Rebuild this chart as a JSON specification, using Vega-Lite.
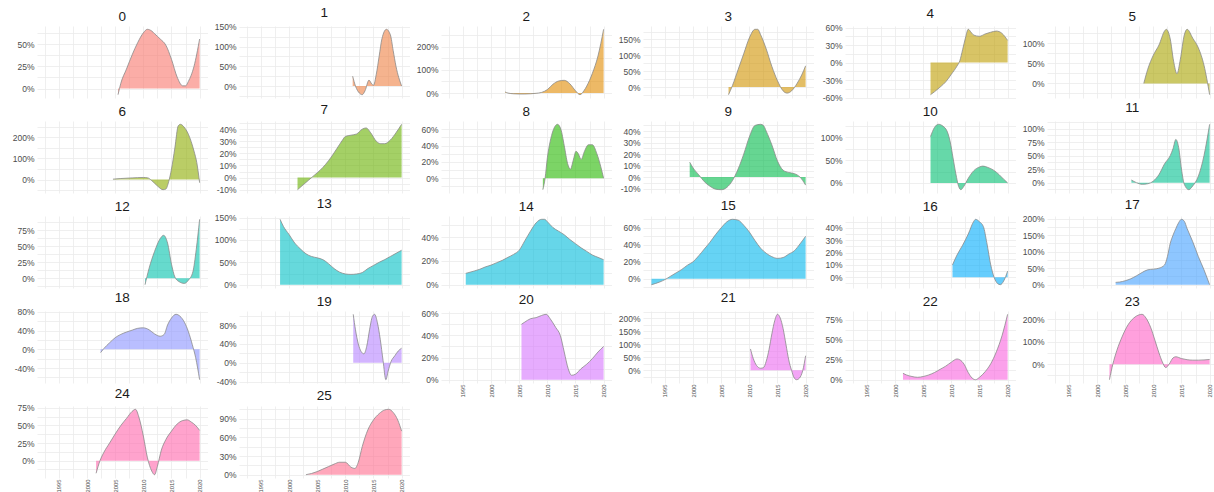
{
  "$schema": "https://vega.github.io/schema/vega-lite/v6.json",
  "padding": {"left": 12, "top": 6, "right": 0, "bottom": 0},
  "background": "white",
  "data": {"values": [
    {"p":0,"year":2005.5,"v":-0.07},{"p":0,"year":2006,"v":0.06},{"p":0,"year":2007,"v":0.22},{"p":0,"year":2008,"v":0.38},{"p":0,"year":2009,"v":0.52},{"p":0,"year":2010,"v":0.63},{"p":0,"year":2010.7,"v":0.67},{"p":0,"year":2011.5,"v":0.65},{"p":0,"year":2012,"v":0.62},{"p":0,"year":2013,"v":0.56},{"p":0,"year":2014,"v":0.49},{"p":0,"year":2015,"v":0.33},{"p":0,"year":2016,"v":0.13},{"p":0,"year":2017,"v":0.03},{"p":0,"year":2017.5,"v":0.03},{"p":0,"year":2018,"v":0.08},{"p":0,"year":2019,"v":0.25},{"p":0,"year":2020,"v":0.56},
    {"p":1,"year":2011.3,"v":0.25},{"p":1,"year":2011.8,"v":0.0},{"p":1,"year":2012.5,"v":-0.18},{"p":1,"year":2013,"v":-0.22},{"p":1,"year":2013.5,"v":-0.12},{"p":1,"year":2014.2,"v":0.15},{"p":1,"year":2014.7,"v":0.05},{"p":1,"year":2015,"v":0.02},{"p":1,"year":2015.5,"v":0.3},{"p":1,"year":2016,"v":0.75},{"p":1,"year":2016.5,"v":1.2},{"p":1,"year":2017.3,"v":1.44},{"p":1,"year":2018,"v":1.3},{"p":1,"year":2018.5,"v":0.9},{"p":1,"year":2019,"v":0.5},{"p":1,"year":2020,"v":0.0},
    {"p":2,"year":2002.5,"v":0.05},{"p":2,"year":2003,"v":0.0},{"p":2,"year":2004,"v":-0.03},{"p":2,"year":2005,"v":-0.04},{"p":2,"year":2006,"v":-0.04},{"p":2,"year":2007,"v":-0.03},{"p":2,"year":2008,"v":-0.01},{"p":2,"year":2009,"v":0.03},{"p":2,"year":2010,"v":0.15},{"p":2,"year":2011,"v":0.38},{"p":2,"year":2012,"v":0.52},{"p":2,"year":2013,"v":0.55},{"p":2,"year":2014,"v":0.4},{"p":2,"year":2015,"v":0.1},{"p":2,"year":2015.8,"v":-0.07},{"p":2,"year":2016.5,"v":0.1},{"p":2,"year":2017,"v":0.3},{"p":2,"year":2018,"v":0.85},{"p":2,"year":2019,"v":1.6},{"p":2,"year":2020,"v":2.75},
    {"p":3,"year":2006.3,"v":-0.24},{"p":3,"year":2007,"v":0.05},{"p":3,"year":2008,"v":0.55},{"p":3,"year":2009,"v":1.05},{"p":3,"year":2010,"v":1.55},{"p":3,"year":2011,"v":1.82},{"p":3,"year":2011.5,"v":1.82},{"p":3,"year":2012,"v":1.65},{"p":3,"year":2013,"v":1.2},{"p":3,"year":2014,"v":0.65},{"p":3,"year":2015,"v":0.2},{"p":3,"year":2016,"v":-0.12},{"p":3,"year":2016.7,"v":-0.19},{"p":3,"year":2017.5,"v":-0.12},{"p":3,"year":2018.5,"v":0.12},{"p":3,"year":2019.3,"v":0.38},{"p":3,"year":2020,"v":0.67},
    {"p":4,"year":2006.3,"v":-0.55},{"p":4,"year":2007,"v":-0.5},{"p":4,"year":2008,"v":-0.42},{"p":4,"year":2009,"v":-0.33},{"p":4,"year":2010,"v":-0.2},{"p":4,"year":2011,"v":-0.06},{"p":4,"year":2011.5,"v":0.03},{"p":4,"year":2012,"v":0.22},{"p":4,"year":2012.5,"v":0.42},{"p":4,"year":2013,"v":0.57},{"p":4,"year":2013.5,"v":0.52},{"p":4,"year":2014,"v":0.47},{"p":4,"year":2015,"v":0.45},{"p":4,"year":2016,"v":0.49},{"p":4,"year":2017,"v":0.52},{"p":4,"year":2018,"v":0.54},{"p":4,"year":2019,"v":0.5},{"p":4,"year":2020,"v":0.38},
    {"p":5,"year":2008.3,"v":0.0},{"p":5,"year":2009,"v":0.35},{"p":5,"year":2010,"v":0.7},{"p":5,"year":2011,"v":0.95},{"p":5,"year":2012,"v":1.3},{"p":5,"year":2012.3,"v":1.34},{"p":5,"year":2013,"v":1.1},{"p":5,"year":2013.6,"v":0.55},{"p":5,"year":2014.2,"v":0.24},{"p":5,"year":2014.8,"v":0.6},{"p":5,"year":2015.5,"v":1.2},{"p":5,"year":2016,"v":1.34},{"p":5,"year":2017,"v":1.12},{"p":5,"year":2018,"v":0.88},{"p":5,"year":2019,"v":0.45},{"p":5,"year":2020,"v":-0.28},
    {"p":6,"year":2004.6,"v":0.02},{"p":6,"year":2006,"v":0.05},{"p":6,"year":2008,"v":0.08},{"p":6,"year":2010,"v":0.1},{"p":6,"year":2010.8,"v":0.08},{"p":6,"year":2011.5,"v":-0.05},{"p":6,"year":2012.5,"v":-0.3},{"p":6,"year":2013.5,"v":-0.48},{"p":6,"year":2014,"v":-0.45},{"p":6,"year":2014.5,"v":-0.1},{"p":6,"year":2015,"v":0.5},{"p":6,"year":2015.6,"v":1.5},{"p":6,"year":2016.2,"v":2.55},{"p":6,"year":2016.6,"v":2.62},{"p":6,"year":2017.2,"v":2.5},{"p":6,"year":2018,"v":2.15},{"p":6,"year":2019,"v":1.35},{"p":6,"year":2019.5,"v":0.8},{"p":6,"year":2020,"v":-0.15},
    {"p":7,"year":2001.5,"v":-0.1},{"p":7,"year":2002.5,"v":-0.06},{"p":7,"year":2003.5,"v":-0.02},{"p":7,"year":2004.5,"v":0.02},{"p":7,"year":2005.5,"v":0.06},{"p":7,"year":2006.5,"v":0.11},{"p":7,"year":2007.5,"v":0.17},{"p":7,"year":2008.5,"v":0.24},{"p":7,"year":2009.5,"v":0.31},{"p":7,"year":2010,"v":0.34},{"p":7,"year":2011,"v":0.35},{"p":7,"year":2012,"v":0.36},{"p":7,"year":2013,"v":0.4},{"p":7,"year":2013.7,"v":0.41},{"p":7,"year":2014.5,"v":0.37},{"p":7,"year":2015.5,"v":0.3},{"p":7,"year":2016.3,"v":0.28},{"p":7,"year":2017,"v":0.28},{"p":7,"year":2018,"v":0.31},{"p":7,"year":2019,"v":0.37},{"p":7,"year":2020,"v":0.44},
    {"p":8,"year":2009.2,"v":-0.14},{"p":8,"year":2009.6,"v":0.0},{"p":8,"year":2010,"v":0.25},{"p":8,"year":2010.5,"v":0.45},{"p":8,"year":2011,"v":0.58},{"p":8,"year":2011.8,"v":0.66},{"p":8,"year":2012.4,"v":0.6},{"p":8,"year":2013,"v":0.4},{"p":8,"year":2013.6,"v":0.18},{"p":8,"year":2014.1,"v":0.11},{"p":8,"year":2014.6,"v":0.22},{"p":8,"year":2015.1,"v":0.33},{"p":8,"year":2015.5,"v":0.3},{"p":8,"year":2016,"v":0.23},{"p":8,"year":2016.6,"v":0.33},{"p":8,"year":2017.3,"v":0.41},{"p":8,"year":2018,"v":0.41},{"p":8,"year":2018.8,"v":0.3},{"p":8,"year":2019.5,"v":0.14},{"p":8,"year":2020,"v":0.0},
    {"p":9,"year":1999.4,"v":0.13},{"p":9,"year":2000,"v":0.08},{"p":9,"year":2001,"v":0.02},{"p":9,"year":2002,"v":-0.04},{"p":9,"year":2003,"v":-0.08},{"p":9,"year":2004,"v":-0.105},{"p":9,"year":2005,"v":-0.11},{"p":9,"year":2006,"v":-0.09},{"p":9,"year":2007,"v":-0.03},{"p":9,"year":2008,"v":0.07},{"p":9,"year":2009,"v":0.2},{"p":9,"year":2010,"v":0.35},{"p":9,"year":2011,"v":0.45},{"p":9,"year":2012,"v":0.46},{"p":9,"year":2012.5,"v":0.45},{"p":9,"year":2013,"v":0.4},{"p":9,"year":2014,"v":0.28},{"p":9,"year":2015,"v":0.14},{"p":9,"year":2016,"v":0.06},{"p":9,"year":2017,"v":0.04},{"p":9,"year":2018,"v":0.03},{"p":9,"year":2019,"v":0.0},{"p":9,"year":2020,"v":-0.07},
    {"p":10,"year":2006.3,"v":1.02},{"p":10,"year":2007,"v":1.22},{"p":10,"year":2007.7,"v":1.29},{"p":10,"year":2008.5,"v":1.25},{"p":10,"year":2009.3,"v":1.12},{"p":10,"year":2009.8,"v":0.9},{"p":10,"year":2010.3,"v":0.55},{"p":10,"year":2010.8,"v":0.2},{"p":10,"year":2011.3,"v":-0.08},{"p":10,"year":2011.7,"v":-0.15},{"p":10,"year":2012.2,"v":-0.08},{"p":10,"year":2013,"v":0.1},{"p":10,"year":2014,"v":0.27},{"p":10,"year":2015,"v":0.35},{"p":10,"year":2015.6,"v":0.37},{"p":10,"year":2016.5,"v":0.34},{"p":10,"year":2017.5,"v":0.28},{"p":10,"year":2018.5,"v":0.18},{"p":10,"year":2019.3,"v":0.08},{"p":10,"year":2020,"v":0.0},
    {"p":11,"year":2006.1,"v":0.05},{"p":11,"year":2007,"v":0.0},{"p":11,"year":2008,"v":-0.03},{"p":11,"year":2009,"v":-0.02},{"p":11,"year":2010,"v":0.03},{"p":11,"year":2011,"v":0.15},{"p":11,"year":2012,"v":0.35},{"p":11,"year":2013,"v":0.5},{"p":11,"year":2013.5,"v":0.63},{"p":11,"year":2014,"v":0.8},{"p":11,"year":2014.5,"v":0.65},{"p":11,"year":2015,"v":0.25},{"p":11,"year":2015.5,"v":-0.03},{"p":11,"year":2016.3,"v":-0.13},{"p":11,"year":2017,"v":-0.06},{"p":11,"year":2018,"v":0.12},{"p":11,"year":2019,"v":0.5},{"p":11,"year":2020,"v":1.08},
    {"p":12,"year":2010.3,"v":-0.1},{"p":12,"year":2011,"v":0.15},{"p":12,"year":2012,"v":0.42},{"p":12,"year":2013,"v":0.62},{"p":12,"year":2013.6,"v":0.67},{"p":12,"year":2014.3,"v":0.55},{"p":12,"year":2015,"v":0.22},{"p":12,"year":2015.6,"v":0.02},{"p":12,"year":2016.3,"v":-0.05},{"p":12,"year":2017.3,"v":-0.08},{"p":12,"year":2018,"v":-0.03},{"p":12,"year":2018.8,"v":0.1},{"p":12,"year":2019.4,"v":0.45},{"p":12,"year":2020,"v":0.92},
    {"p":13,"year":1998.4,"v":1.46},{"p":13,"year":1999,"v":1.3},{"p":13,"year":2000,"v":1.12},{"p":13,"year":2001,"v":0.93},{"p":13,"year":2002,"v":0.8},{"p":13,"year":2003,"v":0.69},{"p":13,"year":2004,"v":0.63},{"p":13,"year":2005,"v":0.6},{"p":13,"year":2006,"v":0.56},{"p":13,"year":2007,"v":0.47},{"p":13,"year":2008,"v":0.36},{"p":13,"year":2009,"v":0.28},{"p":13,"year":2010,"v":0.24},{"p":13,"year":2011,"v":0.23},{"p":13,"year":2012,"v":0.24},{"p":13,"year":2013,"v":0.27},{"p":13,"year":2014,"v":0.36},{"p":13,"year":2015,"v":0.43},{"p":13,"year":2016,"v":0.5},{"p":13,"year":2017,"v":0.56},{"p":13,"year":2018,"v":0.63},{"p":13,"year":2019,"v":0.7},{"p":13,"year":2020,"v":0.77},
    {"p":14,"year":1995.5,"v":0.095},{"p":14,"year":1997,"v":0.115},{"p":14,"year":1998,"v":0.13},{"p":14,"year":1999,"v":0.15},{"p":14,"year":2000,"v":0.165},{"p":14,"year":2001,"v":0.185},{"p":14,"year":2002,"v":0.205},{"p":14,"year":2003,"v":0.23},{"p":14,"year":2004,"v":0.255},{"p":14,"year":2005,"v":0.29},{"p":14,"year":2006,"v":0.37},{"p":14,"year":2007,"v":0.45},{"p":14,"year":2008,"v":0.52},{"p":14,"year":2009,"v":0.55},{"p":14,"year":2009.5,"v":0.55},{"p":14,"year":2010,"v":0.53},{"p":14,"year":2011,"v":0.48},{"p":14,"year":2012,"v":0.45},{"p":14,"year":2013,"v":0.42},{"p":14,"year":2014,"v":0.38},{"p":14,"year":2015,"v":0.345},{"p":14,"year":2016,"v":0.31},{"p":14,"year":2017,"v":0.28},{"p":14,"year":2018,"v":0.25},{"p":14,"year":2019,"v":0.23},{"p":14,"year":2020,"v":0.21},
    {"p":15,"year":1992.6,"v":-0.07},{"p":15,"year":1994,"v":-0.04},{"p":15,"year":1995,"v":-0.01},{"p":15,"year":1996,"v":0.03},{"p":15,"year":1997,"v":0.07},{"p":15,"year":1998,"v":0.11},{"p":15,"year":1999,"v":0.16},{"p":15,"year":2000,"v":0.2},{"p":15,"year":2001,"v":0.27},{"p":15,"year":2002,"v":0.35},{"p":15,"year":2003,"v":0.43},{"p":15,"year":2004,"v":0.52},{"p":15,"year":2005,"v":0.6},{"p":15,"year":2006,"v":0.67},{"p":15,"year":2007,"v":0.7},{"p":15,"year":2008,"v":0.69},{"p":15,"year":2009,"v":0.63},{"p":15,"year":2010,"v":0.55},{"p":15,"year":2011,"v":0.45},{"p":15,"year":2012,"v":0.36},{"p":15,"year":2013,"v":0.3},{"p":15,"year":2014,"v":0.26},{"p":15,"year":2015,"v":0.24},{"p":15,"year":2016,"v":0.25},{"p":15,"year":2017,"v":0.29},{"p":15,"year":2018,"v":0.33},{"p":15,"year":2019,"v":0.41},{"p":15,"year":2020,"v":0.5},
    {"p":16,"year":2010.2,"v":0.1},{"p":16,"year":2011,"v":0.18},{"p":16,"year":2012,"v":0.26},{"p":16,"year":2013,"v":0.35},{"p":16,"year":2014,"v":0.455},{"p":16,"year":2014.3,"v":0.47},{"p":16,"year":2015,"v":0.45},{"p":16,"year":2015.7,"v":0.41},{"p":16,"year":2016.3,"v":0.28},{"p":16,"year":2017,"v":0.1},{"p":16,"year":2017.6,"v":0.0},{"p":16,"year":2018.2,"v":-0.05},{"p":16,"year":2018.7,"v":-0.06},{"p":16,"year":2019.3,"v":-0.03},{"p":16,"year":2020,"v":0.05},
    {"p":17,"year":2003.3,"v":0.07},{"p":17,"year":2004,"v":0.08},{"p":17,"year":2005,"v":0.12},{"p":17,"year":2006,"v":0.18},{"p":17,"year":2007,"v":0.27},{"p":17,"year":2008,"v":0.37},{"p":17,"year":2009,"v":0.45},{"p":17,"year":2010,"v":0.47},{"p":17,"year":2011,"v":0.5},{"p":17,"year":2012,"v":0.6},{"p":17,"year":2012.5,"v":0.85},{"p":17,"year":2013,"v":1.25},{"p":17,"year":2013.5,"v":1.5},{"p":17,"year":2014,"v":1.7},{"p":17,"year":2014.5,"v":1.88},{"p":17,"year":2015,"v":1.98},{"p":17,"year":2015.5,"v":1.92},{"p":17,"year":2016,"v":1.7},{"p":17,"year":2017,"v":1.3},{"p":17,"year":2018,"v":0.85},{"p":17,"year":2019,"v":0.45},{"p":17,"year":2020,"v":0.0},
    {"p":18,"year":2002.4,"v":-0.07},{"p":18,"year":2003,"v":0.02},{"p":18,"year":2004,"v":0.14},{"p":18,"year":2005,"v":0.25},{"p":18,"year":2006,"v":0.32},{"p":18,"year":2007,"v":0.37},{"p":18,"year":2008,"v":0.41},{"p":18,"year":2009,"v":0.45},{"p":18,"year":2010,"v":0.46},{"p":18,"year":2011,"v":0.42},{"p":18,"year":2012,"v":0.33},{"p":18,"year":2013,"v":0.28},{"p":18,"year":2013.7,"v":0.32},{"p":18,"year":2014.3,"v":0.52},{"p":18,"year":2015,"v":0.67},{"p":18,"year":2015.8,"v":0.75},{"p":18,"year":2016.5,"v":0.71},{"p":18,"year":2017.3,"v":0.58},{"p":18,"year":2018,"v":0.38},{"p":18,"year":2018.7,"v":0.1},{"p":18,"year":2019.3,"v":-0.18},{"p":18,"year":2020,"v":-0.65},
    {"p":19,"year":2011.4,"v":1.03},{"p":19,"year":2011.8,"v":0.7},{"p":19,"year":2012.3,"v":0.4},{"p":19,"year":2012.8,"v":0.24},{"p":19,"year":2013.3,"v":0.19},{"p":19,"year":2013.8,"v":0.35},{"p":19,"year":2014.3,"v":0.7},{"p":19,"year":2014.8,"v":0.98},{"p":19,"year":2015.2,"v":1.03},{"p":19,"year":2015.7,"v":0.85},{"p":19,"year":2016.2,"v":0.5},{"p":19,"year":2016.7,"v":0.05},{"p":19,"year":2017.2,"v":-0.36},{"p":19,"year":2017.6,"v":-0.18},{"p":19,"year":2018.1,"v":0.02},{"p":19,"year":2018.8,"v":0.15},{"p":19,"year":2019.4,"v":0.25},{"p":19,"year":2020,"v":0.31},
    {"p":20,"year":2005.4,"v":0.5},{"p":20,"year":2006,"v":0.52},{"p":20,"year":2007,"v":0.55},{"p":20,"year":2008,"v":0.56},{"p":20,"year":2009,"v":0.58},{"p":20,"year":2009.8,"v":0.59},{"p":20,"year":2010.5,"v":0.55},{"p":20,"year":2011.5,"v":0.47},{"p":20,"year":2012.3,"v":0.4},{"p":20,"year":2013,"v":0.25},{"p":20,"year":2013.7,"v":0.1},{"p":20,"year":2014.3,"v":0.04},{"p":20,"year":2015,"v":0.05},{"p":20,"year":2016,"v":0.1},{"p":20,"year":2017,"v":0.14},{"p":20,"year":2018,"v":0.19},{"p":20,"year":2019,"v":0.25},{"p":20,"year":2020,"v":0.3},
    {"p":21,"year":2010.2,"v":0.82},{"p":21,"year":2010.7,"v":0.45},{"p":21,"year":2011.3,"v":0.18},{"p":21,"year":2012,"v":0.08},{"p":21,"year":2012.5,"v":0.1},{"p":21,"year":2013,"v":0.35},{"p":21,"year":2013.5,"v":0.8},{"p":21,"year":2014,"v":1.4},{"p":21,"year":2014.5,"v":1.9},{"p":21,"year":2015,"v":2.15},{"p":21,"year":2015.5,"v":2.0},{"p":21,"year":2016,"v":1.6},{"p":21,"year":2016.5,"v":1.0},{"p":21,"year":2017,"v":0.4},{"p":21,"year":2017.5,"v":0.0},{"p":21,"year":2018,"v":-0.3},{"p":21,"year":2018.4,"v":-0.36},{"p":21,"year":2018.9,"v":-0.3},{"p":21,"year":2019.5,"v":0.0},{"p":21,"year":2020,"v":0.56},
    {"p":22,"year":2001.4,"v":0.08},{"p":22,"year":2002,"v":0.06},{"p":22,"year":2003,"v":0.04},{"p":22,"year":2004,"v":0.03},{"p":22,"year":2005,"v":0.04},{"p":22,"year":2006,"v":0.06},{"p":22,"year":2007,"v":0.09},{"p":22,"year":2008,"v":0.13},{"p":22,"year":2009,"v":0.17},{"p":22,"year":2010,"v":0.22},{"p":22,"year":2011,"v":0.26},{"p":22,"year":2011.5,"v":0.25},{"p":22,"year":2012.3,"v":0.19},{"p":22,"year":2013,"v":0.09},{"p":22,"year":2013.7,"v":0.02},{"p":22,"year":2014.3,"v":0.0},{"p":22,"year":2015,"v":0.03},{"p":22,"year":2016,"v":0.1},{"p":22,"year":2017,"v":0.2},{"p":22,"year":2018,"v":0.35},{"p":22,"year":2019,"v":0.55},{"p":22,"year":2020,"v":0.82},
    {"p":23,"year":2002.2,"v":-0.69},{"p":23,"year":2002.8,"v":0.0},{"p":23,"year":2003.5,"v":0.6},{"p":23,"year":2004.5,"v":1.25},{"p":23,"year":2005.5,"v":1.75},{"p":23,"year":2006.5,"v":2.05},{"p":23,"year":2007.5,"v":2.2},{"p":23,"year":2008,"v":2.22},{"p":23,"year":2008.7,"v":2.05},{"p":23,"year":2009.5,"v":1.65},{"p":23,"year":2010.3,"v":1.05},{"p":23,"year":2011,"v":0.5},{"p":23,"year":2011.6,"v":0.1},{"p":23,"year":2012.2,"v":-0.15},{"p":23,"year":2012.8,"v":0.0},{"p":23,"year":2013.5,"v":0.28},{"p":23,"year":2014,"v":0.33},{"p":23,"year":2015,"v":0.25},{"p":23,"year":2016,"v":0.2},{"p":23,"year":2017,"v":0.18},{"p":23,"year":2018,"v":0.18},{"p":23,"year":2019,"v":0.19},{"p":23,"year":2020,"v":0.21},
    {"p":24,"year":2001.6,"v":-0.18},{"p":24,"year":2002.3,"v":0.0},{"p":24,"year":2003,"v":0.12},{"p":24,"year":2004,"v":0.25},{"p":24,"year":2005,"v":0.38},{"p":24,"year":2006,"v":0.5},{"p":24,"year":2007,"v":0.6},{"p":24,"year":2008,"v":0.7},{"p":24,"year":2008.6,"v":0.73},{"p":24,"year":2009.2,"v":0.62},{"p":24,"year":2010,"v":0.35},{"p":24,"year":2010.7,"v":0.05},{"p":24,"year":2011.5,"v":-0.15},{"p":24,"year":2012,"v":-0.2},{"p":24,"year":2012.5,"v":-0.08},{"p":24,"year":2013.2,"v":0.15},{"p":24,"year":2014,"v":0.3},{"p":24,"year":2015,"v":0.42},{"p":24,"year":2016,"v":0.52},{"p":24,"year":2017,"v":0.57},{"p":24,"year":2017.8,"v":0.58},{"p":24,"year":2018.5,"v":0.55},{"p":24,"year":2019.3,"v":0.5},{"p":24,"year":2020,"v":0.43},
    {"p":25,"year":2003,"v":0.0},{"p":25,"year":2004,"v":0.02},{"p":25,"year":2005,"v":0.05},{"p":25,"year":2006,"v":0.09},{"p":25,"year":2007,"v":0.13},{"p":25,"year":2008,"v":0.17},{"p":25,"year":2009,"v":0.2},{"p":25,"year":2010,"v":0.2},{"p":25,"year":2011,"v":0.12},{"p":25,"year":2011.7,"v":0.1},{"p":25,"year":2012.3,"v":0.2},{"p":25,"year":2013,"v":0.45},{"p":25,"year":2014,"v":0.72},{"p":25,"year":2015,"v":0.88},{"p":25,"year":2016,"v":0.98},{"p":25,"year":2017,"v":1.04},{"p":25,"year":2017.7,"v":1.05},{"p":25,"year":2018.5,"v":1.0},{"p":25,"year":2019.3,"v":0.88},{"p":25,"year":2020,"v":0.7}
  ]},
  "columns": 6,
  "spacing": {"row": 23, "column": 31},
  "bounds": "flush",
  "concat": [
    {"title": "0", "width": 170.5, "height": 72, "transform": [{"filter": "datum.p == 0"}],
     "encoding": {"x": {"field": "year", "type": "quantitative", "title": null, "scale": {"domain": [1991.1, 2021.4], "nice": false, "zero": false}, "axis": {"values": [1992.5,1995,1997.5,2000,2002.5,2005,2007.5,2010,2012.5,2015,2017.5,2020], "labels": false}},
                  "y": {"field": "v", "type": "quantitative", "title": null, "scale": {"nice": false, "zero": true, "padding": 3.3}, "axis": {"values": [0,0.125,0.25,0.375,0.5,0.625], "labelExpr": "abs(datum.value/0.25-round(datum.value/0.25))<1e-6?(datum.value<0?'-':'')+format(abs(datum.value),'.0%'):''"}}},
     "layer": [{"mark": {"type": "area", "interpolate": "monotone", "color": "#F8766D", "opacity": 0.6}, "encoding": {"y2": {"datum": 0}}}, {"mark": {"type": "line", "interpolate": "monotone", "color": "#8a8a8a", "strokeWidth": 0.8}}]},
    {"title": "1", "width": 170.5, "height": 72, "transform": [{"filter": "datum.p == 1"}],
     "encoding": {"x": {"field": "year", "type": "quantitative", "title": null, "scale": {"domain": [1991.1, 2021.4], "nice": false, "zero": false}, "axis": {"values": [1992.5,1995,1997.5,2000,2002.5,2005,2007.5,2010,2012.5,2015,2017.5,2020], "labels": false}},
                  "y": {"field": "v", "type": "quantitative", "title": null, "scale": {"nice": false, "zero": true, "padding": 3.3}, "axis": {"values": [-0.25,0,0.25,0.5,0.75,1,1.25,1.5], "labelExpr": "abs(datum.value/0.5-round(datum.value/0.5))<1e-6?(datum.value<0?'-':'')+format(abs(datum.value),'.0%'):''"}}},
     "layer": [{"mark": {"type": "area", "interpolate": "monotone", "color": "#EE8043", "opacity": 0.6}, "encoding": {"y2": {"datum": 0}}}, {"mark": {"type": "line", "interpolate": "monotone", "color": "#8a8a8a", "strokeWidth": 0.8}}]},
    {"title": "2", "width": 170.5, "height": 72, "transform": [{"filter": "datum.p == 2"}],
     "encoding": {"x": {"field": "year", "type": "quantitative", "title": null, "scale": {"domain": [1991.1, 2021.4], "nice": false, "zero": false}, "axis": {"values": [1992.5,1995,1997.5,2000,2002.5,2005,2007.5,2010,2012.5,2015,2017.5,2020], "labels": false}},
                  "y": {"field": "v", "type": "quantitative", "title": null, "scale": {"nice": false, "zero": true, "padding": 3.3}, "axis": {"values": [0,0.5,1,1.5,2,2.5], "labelExpr": "abs(datum.value/1-round(datum.value/1))<1e-6?(datum.value<0?'-':'')+format(abs(datum.value),'.0%'):''"}}},
     "layer": [{"mark": {"type": "area", "interpolate": "monotone", "color": "#E18A00", "opacity": 0.6}, "encoding": {"y2": {"datum": 0}}}, {"mark": {"type": "line", "interpolate": "monotone", "color": "#8a8a8a", "strokeWidth": 0.8}}]},
    {"title": "3", "width": 170.5, "height": 72, "transform": [{"filter": "datum.p == 3"}],
     "encoding": {"x": {"field": "year", "type": "quantitative", "title": null, "scale": {"domain": [1991.1, 2021.4], "nice": false, "zero": false}, "axis": {"values": [1992.5,1995,1997.5,2000,2002.5,2005,2007.5,2010,2012.5,2015,2017.5,2020], "labels": false}},
                  "y": {"field": "v", "type": "quantitative", "title": null, "scale": {"nice": false, "zero": true, "padding": 3.3}, "axis": {"values": [-0.25,0,0.25,0.5,0.75,1,1.25,1.5,1.75], "labelExpr": "abs(datum.value/0.5-round(datum.value/0.5))<1e-6?(datum.value<0?'-':'')+format(abs(datum.value),'.0%'):''"}}},
     "layer": [{"mark": {"type": "area", "interpolate": "monotone", "color": "#D19300", "opacity": 0.6}, "encoding": {"y2": {"datum": 0}}}, {"mark": {"type": "line", "interpolate": "monotone", "color": "#8a8a8a", "strokeWidth": 0.8}}]},
    {"title": "4", "width": 170.5, "height": 72, "transform": [{"filter": "datum.p == 4"}],
     "encoding": {"x": {"field": "year", "type": "quantitative", "title": null, "scale": {"domain": [1991.1, 2021.4], "nice": false, "zero": false}, "axis": {"values": [1992.5,1995,1997.5,2000,2002.5,2005,2007.5,2010,2012.5,2015,2017.5,2020], "labels": false}},
                  "y": {"field": "v", "type": "quantitative", "title": null, "scale": {"nice": false, "zero": true, "padding": 3.3}, "axis": {"values": [-0.6,-0.45,-0.3,-0.15,0,0.15,0.3,0.45,0.6], "labelExpr": "abs(datum.value/0.3-round(datum.value/0.3))<1e-6?(datum.value<0?'-':'')+format(abs(datum.value),'.0%'):''"}}},
     "layer": [{"mark": {"type": "area", "interpolate": "monotone", "color": "#BE9C00", "opacity": 0.6}, "encoding": {"y2": {"datum": 0}}}, {"mark": {"type": "line", "interpolate": "monotone", "color": "#8a8a8a", "strokeWidth": 0.8}}]},
    {"title": "5", "width": 170.5, "height": 72, "transform": [{"filter": "datum.p == 5"}],
     "encoding": {"x": {"field": "year", "type": "quantitative", "title": null, "scale": {"domain": [1991.1, 2021.4], "nice": false, "zero": false}, "axis": {"values": [1992.5,1995,1997.5,2000,2002.5,2005,2007.5,2010,2012.5,2015,2017.5,2020], "labels": false}},
                  "y": {"field": "v", "type": "quantitative", "title": null, "scale": {"nice": false, "zero": true, "padding": 3.3}, "axis": {"values": [-0.25,0,0.25,0.5,0.75,1,1.25], "labelExpr": "abs(datum.value/0.5-round(datum.value/0.5))<1e-6?(datum.value<0?'-':'')+format(abs(datum.value),'.0%'):''"}}},
     "layer": [{"mark": {"type": "area", "interpolate": "monotone", "color": "#A8A400", "opacity": 0.6}, "encoding": {"y2": {"datum": 0}}}, {"mark": {"type": "line", "interpolate": "monotone", "color": "#8a8a8a", "strokeWidth": 0.8}}]},
    {"title": "6", "width": 170.5, "height": 72, "transform": [{"filter": "datum.p == 6"}],
     "encoding": {"x": {"field": "year", "type": "quantitative", "title": null, "scale": {"domain": [1991.1, 2021.4], "nice": false, "zero": false}, "axis": {"values": [1992.5,1995,1997.5,2000,2002.5,2005,2007.5,2010,2012.5,2015,2017.5,2020], "labels": false}},
                  "y": {"field": "v", "type": "quantitative", "title": null, "scale": {"nice": false, "zero": true, "padding": 3.3}, "axis": {"values": [-0.5,0,0.5,1,1.5,2,2.5], "labelExpr": "abs(datum.value/1-round(datum.value/1))<1e-6?(datum.value<0?'-':'')+format(abs(datum.value),'.0%'):''"}}},
     "layer": [{"mark": {"type": "area", "interpolate": "monotone", "color": "#8CAB00", "opacity": 0.6}, "encoding": {"y2": {"datum": 0}}}, {"mark": {"type": "line", "interpolate": "monotone", "color": "#8a8a8a", "strokeWidth": 0.8}}]},
    {"title": "7", "width": 170.5, "height": 72, "transform": [{"filter": "datum.p == 7"}],
     "encoding": {"x": {"field": "year", "type": "quantitative", "title": null, "scale": {"domain": [1991.1, 2021.4], "nice": false, "zero": false}, "axis": {"values": [1992.5,1995,1997.5,2000,2002.5,2005,2007.5,2010,2012.5,2015,2017.5,2020], "labels": false}},
                  "y": {"field": "v", "type": "quantitative", "title": null, "scale": {"nice": false, "zero": true, "padding": 3.3}, "axis": {"values": [-0.1,-0.05,0,0.05,0.1,0.15,0.2,0.25,0.3,0.35,0.4,0.45], "labelExpr": "abs(datum.value/0.1-round(datum.value/0.1))<1e-6?(datum.value<0?'-':'')+format(abs(datum.value),'.0%'):''"}}},
     "layer": [{"mark": {"type": "area", "interpolate": "monotone", "color": "#68B100", "opacity": 0.6}, "encoding": {"y2": {"datum": 0}}}, {"mark": {"type": "line", "interpolate": "monotone", "color": "#8a8a8a", "strokeWidth": 0.8}}]},
    {"title": "8", "width": 170.5, "height": 72, "transform": [{"filter": "datum.p == 8"}],
     "encoding": {"x": {"field": "year", "type": "quantitative", "title": null, "scale": {"domain": [1991.1, 2021.4], "nice": false, "zero": false}, "axis": {"values": [1992.5,1995,1997.5,2000,2002.5,2005,2007.5,2010,2012.5,2015,2017.5,2020], "labels": false}},
                  "y": {"field": "v", "type": "quantitative", "title": null, "scale": {"nice": false, "zero": true, "padding": 3.3}, "axis": {"values": [-0.1,0,0.1,0.2,0.3,0.4,0.5,0.6], "labelExpr": "abs(datum.value/0.2-round(datum.value/0.2))<1e-6?(datum.value<0?'-':'')+format(abs(datum.value),'.0%'):''"}}},
     "layer": [{"mark": {"type": "area", "interpolate": "monotone", "color": "#24B700", "opacity": 0.6}, "encoding": {"y2": {"datum": 0}}}, {"mark": {"type": "line", "interpolate": "monotone", "color": "#8a8a8a", "strokeWidth": 0.8}}]},
    {"title": "9", "width": 170.5, "height": 72, "transform": [{"filter": "datum.p == 9"}],
     "encoding": {"x": {"field": "year", "type": "quantitative", "title": null, "scale": {"domain": [1991.1, 2021.4], "nice": false, "zero": false}, "axis": {"values": [1992.5,1995,1997.5,2000,2002.5,2005,2007.5,2010,2012.5,2015,2017.5,2020], "labels": false}},
                  "y": {"field": "v", "type": "quantitative", "title": null, "scale": {"nice": false, "zero": true, "padding": 3.3}, "axis": {"values": [-0.1,-0.05,0,0.05,0.1,0.15,0.2,0.25,0.3,0.35,0.4,0.45], "labelExpr": "abs(datum.value/0.1-round(datum.value/0.1))<1e-6?(datum.value<0?'-':'')+format(abs(datum.value),'.0%'):''"}}},
     "layer": [{"mark": {"type": "area", "interpolate": "monotone", "color": "#00BB49", "opacity": 0.6}, "encoding": {"y2": {"datum": 0}}}, {"mark": {"type": "line", "interpolate": "monotone", "color": "#8a8a8a", "strokeWidth": 0.8}}]},
    {"title": "10", "width": 170.5, "height": 72, "transform": [{"filter": "datum.p == 10"}],
     "encoding": {"x": {"field": "year", "type": "quantitative", "title": null, "scale": {"domain": [1991.1, 2021.4], "nice": false, "zero": false}, "axis": {"values": [1992.5,1995,1997.5,2000,2002.5,2005,2007.5,2010,2012.5,2015,2017.5,2020], "labels": false}},
                  "y": {"field": "v", "type": "quantitative", "title": null, "scale": {"nice": false, "zero": true, "padding": 3.3}, "axis": {"values": [0,0.25,0.5,0.75,1,1.25], "labelExpr": "abs(datum.value/0.5-round(datum.value/0.5))<1e-6?(datum.value<0?'-':'')+format(abs(datum.value),'.0%'):''"}}},
     "layer": [{"mark": {"type": "area", "interpolate": "monotone", "color": "#00BE70", "opacity": 0.6}, "encoding": {"y2": {"datum": 0}}}, {"mark": {"type": "line", "interpolate": "monotone", "color": "#8a8a8a", "strokeWidth": 0.8}}]},
    {"title": "11", "width": 170.5, "height": 72, "transform": [{"filter": "datum.p == 11"}],
     "encoding": {"x": {"field": "year", "type": "quantitative", "title": null, "scale": {"domain": [1991.1, 2021.4], "nice": false, "zero": false}, "axis": {"values": [1992.5,1995,1997.5,2000,2002.5,2005,2007.5,2010,2012.5,2015,2017.5,2020], "labels": false}},
                  "y": {"field": "v", "type": "quantitative", "title": null, "scale": {"nice": false, "zero": true, "padding": 3.3}, "axis": {"values": [-0.125,0,0.125,0.25,0.375,0.5,0.625,0.75,0.875,1,1.125], "labelExpr": "abs(datum.value/0.25-round(datum.value/0.25))<1e-6?(datum.value<0?'-':'')+format(abs(datum.value),'.0%'):''"}}},
     "layer": [{"mark": {"type": "area", "interpolate": "monotone", "color": "#00C090", "opacity": 0.6}, "encoding": {"y2": {"datum": 0}}}, {"mark": {"type": "line", "interpolate": "monotone", "color": "#8a8a8a", "strokeWidth": 0.8}}]},
    {"title": "12", "width": 170.5, "height": 72, "transform": [{"filter": "datum.p == 12"}],
     "encoding": {"x": {"field": "year", "type": "quantitative", "title": null, "scale": {"domain": [1991.1, 2021.4], "nice": false, "zero": false}, "axis": {"values": [1992.5,1995,1997.5,2000,2002.5,2005,2007.5,2010,2012.5,2015,2017.5,2020], "labels": false}},
                  "y": {"field": "v", "type": "quantitative", "title": null, "scale": {"nice": false, "zero": true, "padding": 3.3}, "axis": {"values": [-0.125,0,0.125,0.25,0.375,0.5,0.625,0.75,0.875], "labelExpr": "abs(datum.value/0.25-round(datum.value/0.25))<1e-6?(datum.value<0?'-':'')+format(abs(datum.value),'.0%'):''"}}},
     "layer": [{"mark": {"type": "area", "interpolate": "monotone", "color": "#00C1AB", "opacity": 0.6}, "encoding": {"y2": {"datum": 0}}}, {"mark": {"type": "line", "interpolate": "monotone", "color": "#8a8a8a", "strokeWidth": 0.8}}]},
    {"title": "13", "width": 170.5, "height": 72, "transform": [{"filter": "datum.p == 13"}],
     "encoding": {"x": {"field": "year", "type": "quantitative", "title": null, "scale": {"domain": [1991.1, 2021.4], "nice": false, "zero": false}, "axis": {"values": [1992.5,1995,1997.5,2000,2002.5,2005,2007.5,2010,2012.5,2015,2017.5,2020], "labels": false}},
                  "y": {"field": "v", "type": "quantitative", "title": null, "scale": {"nice": false, "zero": true, "padding": 3.3}, "axis": {"values": [0,0.25,0.5,0.75,1,1.25,1.5], "labelExpr": "abs(datum.value/0.5-round(datum.value/0.5))<1e-6?(datum.value<0?'-':'')+format(abs(datum.value),'.0%'):''"}}},
     "layer": [{"mark": {"type": "area", "interpolate": "monotone", "color": "#00BFC4", "opacity": 0.6}, "encoding": {"y2": {"datum": 0}}}, {"mark": {"type": "line", "interpolate": "monotone", "color": "#8a8a8a", "strokeWidth": 0.8}}]},
    {"title": "14", "width": 170.5, "height": 72, "transform": [{"filter": "datum.p == 14"}],
     "encoding": {"x": {"field": "year", "type": "quantitative", "title": null, "scale": {"domain": [1991.1, 2021.4], "nice": false, "zero": false}, "axis": {"values": [1992.5,1995,1997.5,2000,2002.5,2005,2007.5,2010,2012.5,2015,2017.5,2020], "labels": false}},
                  "y": {"field": "v", "type": "quantitative", "title": null, "scale": {"nice": false, "zero": true, "padding": 3.3}, "axis": {"values": [0,0.1,0.2,0.3,0.4,0.5], "labelExpr": "abs(datum.value/0.2-round(datum.value/0.2))<1e-6?(datum.value<0?'-':'')+format(abs(datum.value),'.0%'):''"}}},
     "layer": [{"mark": {"type": "area", "interpolate": "monotone", "color": "#00BBDA", "opacity": 0.6}, "encoding": {"y2": {"datum": 0}}}, {"mark": {"type": "line", "interpolate": "monotone", "color": "#8a8a8a", "strokeWidth": 0.8}}]},
    {"title": "15", "width": 170.5, "height": 72, "transform": [{"filter": "datum.p == 15"}],
     "encoding": {"x": {"field": "year", "type": "quantitative", "title": null, "scale": {"domain": [1991.1, 2021.4], "nice": false, "zero": false}, "axis": {"values": [1992.5,1995,1997.5,2000,2002.5,2005,2007.5,2010,2012.5,2015,2017.5,2020], "labels": false}},
                  "y": {"field": "v", "type": "quantitative", "title": null, "scale": {"nice": false, "zero": true, "padding": 3.3}, "axis": {"values": [-0.1,0,0.1,0.2,0.3,0.4,0.5,0.6,0.7], "labelExpr": "abs(datum.value/0.2-round(datum.value/0.2))<1e-6?(datum.value<0?'-':'')+format(abs(datum.value),'.0%'):''"}}},
     "layer": [{"mark": {"type": "area", "interpolate": "monotone", "color": "#00B5ED", "opacity": 0.6}, "encoding": {"y2": {"datum": 0}}}, {"mark": {"type": "line", "interpolate": "monotone", "color": "#8a8a8a", "strokeWidth": 0.8}}]},
    {"title": "16", "width": 170.5, "height": 72, "transform": [{"filter": "datum.p == 16"}],
     "encoding": {"x": {"field": "year", "type": "quantitative", "title": null, "scale": {"domain": [1991.1, 2021.4], "nice": false, "zero": false}, "axis": {"values": [1992.5,1995,1997.5,2000,2002.5,2005,2007.5,2010,2012.5,2015,2017.5,2020], "labels": false}},
                  "y": {"field": "v", "type": "quantitative", "title": null, "scale": {"nice": false, "zero": true, "padding": 3.3}, "axis": {"values": [-0.05,0,0.05,0.1,0.15,0.2,0.25,0.3,0.35,0.4,0.45], "labelExpr": "abs(datum.value/0.1-round(datum.value/0.1))<1e-6?(datum.value<0?'-':'')+format(abs(datum.value),'.0%'):''"}}},
     "layer": [{"mark": {"type": "area", "interpolate": "monotone", "color": "#00ACFC", "opacity": 0.6}, "encoding": {"y2": {"datum": 0}}}, {"mark": {"type": "line", "interpolate": "monotone", "color": "#8a8a8a", "strokeWidth": 0.8}}]},
    {"title": "17", "width": 170.5, "height": 72, "transform": [{"filter": "datum.p == 17"}],
     "encoding": {"x": {"field": "year", "type": "quantitative", "title": null, "scale": {"domain": [1991.1, 2021.4], "nice": false, "zero": false}, "axis": {"values": [1992.5,1995,1997.5,2000,2002.5,2005,2007.5,2010,2012.5,2015,2017.5,2020], "labels": false}},
                  "y": {"field": "v", "type": "quantitative", "title": null, "scale": {"nice": false, "zero": true, "padding": 3.3}, "axis": {"values": [0,0.25,0.5,0.75,1,1.25,1.5,1.75,2], "labelExpr": "abs(datum.value/0.5-round(datum.value/0.5))<1e-6?(datum.value<0?'-':'')+format(abs(datum.value),'.0%'):''"}}},
     "layer": [{"mark": {"type": "area", "interpolate": "monotone", "color": "#42A0FF", "opacity": 0.6}, "encoding": {"y2": {"datum": 0}}}, {"mark": {"type": "line", "interpolate": "monotone", "color": "#8a8a8a", "strokeWidth": 0.8}}]},
    {"title": "18", "width": 170.5, "height": 72, "transform": [{"filter": "datum.p == 18"}],
     "encoding": {"x": {"field": "year", "type": "quantitative", "title": null, "scale": {"domain": [1991.1, 2021.4], "nice": false, "zero": false}, "axis": {"values": [1992.5,1995,1997.5,2000,2002.5,2005,2007.5,2010,2012.5,2015,2017.5,2020], "labels": false}},
                  "y": {"field": "v", "type": "quantitative", "title": null, "scale": {"nice": false, "zero": true, "padding": 3.3}, "axis": {"values": [-0.6,-0.4,-0.2,0,0.2,0.4,0.6,0.8], "labelExpr": "abs(datum.value/0.4-round(datum.value/0.4))<1e-6?(datum.value<0?'-':'')+format(abs(datum.value),'.0%'):''"}}},
     "layer": [{"mark": {"type": "area", "interpolate": "monotone", "color": "#8B93FF", "opacity": 0.6}, "encoding": {"y2": {"datum": 0}}}, {"mark": {"type": "line", "interpolate": "monotone", "color": "#8a8a8a", "strokeWidth": 0.8}}]},
    {"title": "19", "width": 170.5, "height": 72, "transform": [{"filter": "datum.p == 19"}],
     "encoding": {"x": {"field": "year", "type": "quantitative", "title": null, "scale": {"domain": [1991.1, 2021.4], "nice": false, "zero": false}, "axis": {"values": [1992.5,1995,1997.5,2000,2002.5,2005,2007.5,2010,2012.5,2015,2017.5,2020], "labels": false}},
                  "y": {"field": "v", "type": "quantitative", "title": null, "scale": {"nice": false, "zero": true, "padding": 3.3}, "axis": {"values": [-0.4,-0.2,0,0.2,0.4,0.6,0.8,1], "labelExpr": "abs(datum.value/0.4-round(datum.value/0.4))<1e-6?(datum.value<0?'-':'')+format(abs(datum.value),'.0%'):''"}}},
     "layer": [{"mark": {"type": "area", "interpolate": "monotone", "color": "#B684FF", "opacity": 0.6}, "encoding": {"y2": {"datum": 0}}}, {"mark": {"type": "line", "interpolate": "monotone", "color": "#8a8a8a", "strokeWidth": 0.8}}]},
    {"title": "20", "width": 170.5, "height": 72, "transform": [{"filter": "datum.p == 20"}],
     "encoding": {"x": {"field": "year", "type": "quantitative", "title": null, "scale": {"domain": [1991.1, 2021.4], "nice": false, "zero": false}, "axis": {"values": [1992.5,1995,1997.5,2000,2002.5,2005,2007.5,2010,2012.5,2015,2017.5,2020], "labelExpr": "datum.value % 5 == 0 ? '' + datum.value : ''"}},
                  "y": {"field": "v", "type": "quantitative", "title": null, "scale": {"nice": false, "zero": true, "padding": 3.3}, "axis": {"values": [0,0.1,0.2,0.3,0.4,0.5,0.6], "labelExpr": "abs(datum.value/0.2-round(datum.value/0.2))<1e-6?(datum.value<0?'-':'')+format(abs(datum.value),'.0%'):''"}}},
     "layer": [{"mark": {"type": "area", "interpolate": "monotone", "color": "#D575FE", "opacity": 0.6}, "encoding": {"y2": {"datum": 0}}}, {"mark": {"type": "line", "interpolate": "monotone", "color": "#8a8a8a", "strokeWidth": 0.8}}]},
    {"title": "21", "width": 170.5, "height": 72, "transform": [{"filter": "datum.p == 21"}],
     "encoding": {"x": {"field": "year", "type": "quantitative", "title": null, "scale": {"domain": [1991.1, 2021.4], "nice": false, "zero": false}, "axis": {"values": [1992.5,1995,1997.5,2000,2002.5,2005,2007.5,2010,2012.5,2015,2017.5,2020], "labelExpr": "datum.value % 5 == 0 ? '' + datum.value : ''"}},
                  "y": {"field": "v", "type": "quantitative", "title": null, "scale": {"nice": false, "zero": true, "padding": 3.3}, "axis": {"values": [-0.25,0,0.25,0.5,0.75,1,1.25,1.5,1.75,2,2.25], "labelExpr": "abs(datum.value/0.5-round(datum.value/0.5))<1e-6?(datum.value<0?'-':'')+format(abs(datum.value),'.0%'):''"}}},
     "layer": [{"mark": {"type": "area", "interpolate": "monotone", "color": "#EB69F0", "opacity": 0.6}, "encoding": {"y2": {"datum": 0}}}, {"mark": {"type": "line", "interpolate": "monotone", "color": "#8a8a8a", "strokeWidth": 0.8}}]},
    {"title": "22", "width": 170.5, "height": 72, "transform": [{"filter": "datum.p == 22"}],
     "encoding": {"x": {"field": "year", "type": "quantitative", "title": null, "scale": {"domain": [1991.1, 2021.4], "nice": false, "zero": false}, "axis": {"values": [1992.5,1995,1997.5,2000,2002.5,2005,2007.5,2010,2012.5,2015,2017.5,2020], "labelExpr": "datum.value % 5 == 0 ? '' + datum.value : ''"}},
                  "y": {"field": "v", "type": "quantitative", "title": null, "scale": {"nice": false, "zero": true, "padding": 3.3}, "axis": {"values": [0,0.125,0.25,0.375,0.5,0.625,0.75], "labelExpr": "abs(datum.value/0.25-round(datum.value/0.25))<1e-6?(datum.value<0?'-':'')+format(abs(datum.value),'.0%'):''"}}},
     "layer": [{"mark": {"type": "area", "interpolate": "monotone", "color": "#F962DD", "opacity": 0.6}, "encoding": {"y2": {"datum": 0}}}, {"mark": {"type": "line", "interpolate": "monotone", "color": "#8a8a8a", "strokeWidth": 0.8}}]},
    {"title": "23", "width": 170.5, "height": 72, "transform": [{"filter": "datum.p == 23"}],
     "encoding": {"x": {"field": "year", "type": "quantitative", "title": null, "scale": {"domain": [1991.1, 2021.4], "nice": false, "zero": false}, "axis": {"values": [1992.5,1995,1997.5,2000,2002.5,2005,2007.5,2010,2012.5,2015,2017.5,2020], "labelExpr": "datum.value % 5 == 0 ? '' + datum.value : ''"}},
                  "y": {"field": "v", "type": "quantitative", "title": null, "scale": {"nice": false, "zero": true, "padding": 3.3}, "axis": {"values": [-0.5,0,0.5,1,1.5,2], "labelExpr": "abs(datum.value/1-round(datum.value/1))<1e-6?(datum.value<0?'-':'')+format(abs(datum.value),'.0%'):''"}}},
     "layer": [{"mark": {"type": "area", "interpolate": "monotone", "color": "#FF61C6", "opacity": 0.6}, "encoding": {"y2": {"datum": 0}}}, {"mark": {"type": "line", "interpolate": "monotone", "color": "#8a8a8a", "strokeWidth": 0.8}}]},
    {"title": "24", "width": 170.5, "height": 72, "transform": [{"filter": "datum.p == 24"}],
     "encoding": {"x": {"field": "year", "type": "quantitative", "title": null, "scale": {"domain": [1991.1, 2021.4], "nice": false, "zero": false}, "axis": {"values": [1992.5,1995,1997.5,2000,2002.5,2005,2007.5,2010,2012.5,2015,2017.5,2020], "labelExpr": "datum.value % 5 == 0 ? '' + datum.value : ''"}},
                  "y": {"field": "v", "type": "quantitative", "title": null, "scale": {"nice": false, "zero": true, "padding": 3.3}, "axis": {"values": [-0.125,0,0.125,0.25,0.375,0.5,0.625,0.75], "labelExpr": "abs(datum.value/0.25-round(datum.value/0.25))<1e-6?(datum.value<0?'-':'')+format(abs(datum.value),'.0%'):''"}}},
     "layer": [{"mark": {"type": "area", "interpolate": "monotone", "color": "#FF65AC", "opacity": 0.6}, "encoding": {"y2": {"datum": 0}}}, {"mark": {"type": "line", "interpolate": "monotone", "color": "#8a8a8a", "strokeWidth": 0.8}}]},
    {"title": "25", "width": 170.5, "height": 72, "transform": [{"filter": "datum.p == 25"}],
     "encoding": {"x": {"field": "year", "type": "quantitative", "title": null, "scale": {"domain": [1991.1, 2021.4], "nice": false, "zero": false}, "axis": {"values": [1992.5,1995,1997.5,2000,2002.5,2005,2007.5,2010,2012.5,2015,2017.5,2020], "labelExpr": "datum.value % 5 == 0 ? '' + datum.value : ''"}},
                  "y": {"field": "v", "type": "quantitative", "title": null, "scale": {"nice": false, "zero": true, "padding": 3.3}, "axis": {"values": [0,0.15,0.3,0.45,0.6,0.75,0.9,1.05], "labelExpr": "abs(datum.value/0.3-round(datum.value/0.3))<1e-6?(datum.value<0?'-':'')+format(abs(datum.value),'.0%'):''"}}},
     "layer": [{"mark": {"type": "area", "interpolate": "monotone", "color": "#FF6D8E", "opacity": 0.6}, "encoding": {"y2": {"datum": 0}}}, {"mark": {"type": "line", "interpolate": "monotone", "color": "#8a8a8a", "strokeWidth": 0.8}}]}
  ],
  "config": {
    "font": "Liberation Sans",
    "view": {"stroke": null},
    "title": {"fontSize": 13.5, "fontWeight": "normal", "color": "#1a1a1a", "offset": 3, "frame": "group", "font": "Liberation Sans"},
    "axis": {"domain": false, "ticks": false, "grid": true, "gridColor": "#ebebeb", "gridWidth": 0.8, "labelColor": "#4d4d4d", "labelFont": "Liberation Sans", "labelOverlap": false},
    "axisY": {"labelFontSize": 8.5, "labelPadding": 3},
    "axisX": {"labelFontSize": 5.8, "labelAngle": 270, "labelPadding": 1}
  }
}
